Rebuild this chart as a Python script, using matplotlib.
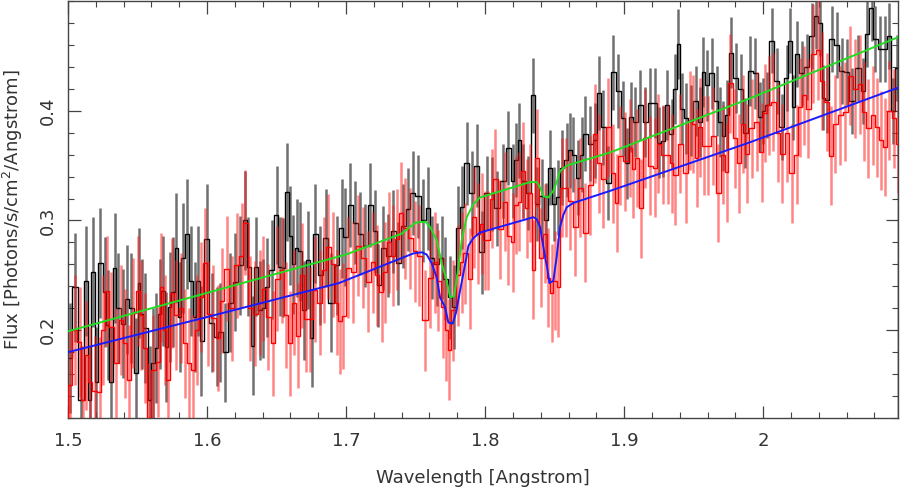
import numpy as np
import matplotlib
matplotlib.use("Agg")
import matplotlib.pyplot as plt
from matplotlib.ticker import MultipleLocator

# black spectrum: bin centres [Angstrom] and flux
black_wave = [1.5012, 1.5048, 1.5096, 1.5132, 1.5156, 1.5180, 1.5204, 1.5233, 1.5264, 1.5286,
              1.5307, 1.5336, 1.5360, 1.5396, 1.5426, 1.5456, 1.5492, 1.5508, 1.5530, 1.5556,
              1.5588, 1.5610, 1.5635, 1.5660, 1.5683, 1.5707, 1.5731, 1.5755, 1.5779, 1.5803,
              1.5827, 1.5858, 1.5887, 1.5911, 1.5935, 1.5960, 1.5998, 1.6034, 1.6070, 1.6094,
              1.6130, 1.6166, 1.6202, 1.6238, 1.6274, 1.6298, 1.6329, 1.6353, 1.6382, 1.6406,
              1.6430, 1.6466, 1.6502, 1.6526, 1.6550, 1.6578, 1.6597, 1.6621, 1.6645, 1.6669,
              1.6698, 1.6729, 1.6753, 1.6777, 1.6813, 1.6854, 1.6890, 1.6933, 1.6969, 1.6993,
              1.7029, 1.7065, 1.7101, 1.7137, 1.7173, 1.7209, 1.7233, 1.7269, 1.7305, 1.7341,
              1.7377, 1.7413, 1.7445, 1.7480, 1.7515, 1.7556, 1.7592, 1.7616, 1.7652, 1.7688,
              1.7712, 1.7748, 1.7777, 1.7808, 1.7835, 1.7868, 1.7904, 1.7940, 1.7976, 1.8012,
              1.8048, 1.8084, 1.8132, 1.8168, 1.8199, 1.8223, 1.8247, 1.8276, 1.8312, 1.8348,
              1.8372, 1.8408, 1.8439, 1.8467, 1.8496, 1.8527, 1.8551, 1.8587, 1.8611, 1.8635,
              1.8671, 1.8695, 1.8719, 1.8755, 1.8791, 1.8822, 1.8851, 1.8887, 1.8923, 1.8959,
              1.8995, 1.9019, 1.9048, 1.9079, 1.9115, 1.9151, 1.9187, 1.9223, 1.9254, 1.9278,
              1.9307, 1.9343, 1.9367, 1.9391, 1.9415, 1.9446, 1.9480, 1.9518, 1.9546, 1.9570,
              1.9594, 1.9630, 1.9666, 1.9690, 1.9714, 1.9738, 1.9767, 1.9805, 1.9839, 1.9870,
              1.9906, 1.9942, 1.9978, 2.0002, 2.0026, 2.0062, 2.0098, 2.0134, 2.0170, 2.0194,
              2.0218, 2.0242, 2.0278, 2.0314, 2.0350, 2.0378, 2.0410, 2.0434, 2.0458, 2.0494,
              2.0530, 2.0565, 2.0601, 2.0637, 2.0681, 2.0721, 2.0745, 2.0781, 2.0805, 2.0841,
              2.0877, 2.0906, 2.0937, 2.0961]
black_flux = [0.175, 0.239, 0.136, 0.245, 0.136, 0.253, 0.153, 0.261, 0.235, 0.205,
              0.153, 0.257, 0.220, 0.206, 0.228, 0.220, 0.161, 0.243, 0.215, 0.202,
              0.136, 0.170, 0.184, 0.215, 0.236, 0.185, 0.221, 0.235, 0.275, 0.212,
              0.266, 0.288, 0.245, 0.212, 0.245, 0.190, 0.283, 0.207, 0.194, 0.198,
              0.180, 0.225, 0.244, 0.259, 0.300, 0.258, 0.186, 0.258, 0.218, 0.220,
              0.239, 0.255, 0.305, 0.258, 0.257, 0.326, 0.286, 0.260, 0.275, 0.272,
              0.218, 0.264, 0.193, 0.288, 0.250, 0.284, 0.225, 0.259, 0.293, 0.285,
              0.314, 0.298, 0.288, 0.277, 0.314, 0.290, 0.241, 0.275, 0.268, 0.290,
              0.261, 0.295, 0.310, 0.325, 0.322, 0.300, 0.311, 0.266, 0.260, 0.266,
              0.247, 0.230, 0.221, 0.293, 0.312, 0.352, 0.325, 0.350, 0.271, 0.325,
              0.324, 0.311, 0.336, 0.366, 0.336, 0.355, 0.373, 0.336, 0.325, 0.414,
              0.315, 0.322, 0.300, 0.348, 0.315, 0.321, 0.348, 0.355, 0.364, 0.360,
              0.339, 0.360, 0.379, 0.370, 0.373, 0.416, 0.385, 0.334, 0.435, 0.418,
              0.393, 0.352, 0.394, 0.390, 0.405, 0.390, 0.407, 0.407, 0.371, 0.372,
              0.405, 0.379, 0.420, 0.461, 0.402, 0.393, 0.391, 0.409, 0.390, 0.435,
              0.423, 0.434, 0.409, 0.390, 0.377, 0.396, 0.453, 0.430, 0.420, 0.380,
              0.436, 0.434, 0.394, 0.400, 0.405, 0.464, 0.427, 0.385, 0.430, 0.464,
              0.403, 0.452, 0.434, 0.440, 0.468, 0.486, 0.480, 0.412, 0.410, 0.465,
              0.460, 0.436, 0.435, 0.409, 0.439, 0.418, 0.470, 0.494, 0.465, 0.456,
              0.456, 0.468, 0.400, 0.439]

# red spectrum
red_wave = [1.5015, 1.5048, 1.5084, 1.5108, 1.5132, 1.5156, 1.5192, 1.5228, 1.5252, 1.5283,
            1.5307, 1.5348, 1.5384, 1.5408, 1.5436, 1.5468, 1.5504, 1.5528, 1.5556, 1.5576,
            1.5612, 1.5647, 1.5671, 1.5695, 1.5719, 1.5748, 1.5779, 1.5811, 1.5839, 1.5868,
            1.5899, 1.5930, 1.5959, 1.5983, 1.6010, 1.6046, 1.6082, 1.6106, 1.6142, 1.6178,
            1.6214, 1.6250, 1.6274, 1.6310, 1.6346, 1.6382, 1.6406, 1.6442, 1.6478, 1.6506,
            1.6538, 1.6569, 1.6597, 1.6626, 1.6657, 1.6681, 1.6713, 1.6741, 1.6777, 1.6809,
            1.6842, 1.6873, 1.6909, 1.6933, 1.6957, 1.6981, 1.7017, 1.7053, 1.7089, 1.7125,
            1.7161, 1.7192, 1.7221, 1.7257, 1.7281, 1.7312, 1.7341, 1.7365, 1.7393, 1.7425,
            1.7461, 1.7497, 1.7528, 1.7568, 1.7604, 1.7640, 1.7664, 1.7700, 1.7722, 1.7744,
            1.7772, 1.7808, 1.7832, 1.7856, 1.7892, 1.7920, 1.7952, 1.7976, 1.8000, 1.8024,
            1.8048, 1.8072, 1.8108, 1.8144, 1.8168, 1.8199, 1.8223, 1.8247, 1.8276, 1.8300,
            1.8324, 1.8348, 1.8376, 1.8400, 1.8431, 1.8455, 1.8479, 1.8503, 1.8527, 1.8551,
            1.8583, 1.8611, 1.8647, 1.8683, 1.8719, 1.8755, 1.8791, 1.8822, 1.8851, 1.8887,
            1.8923, 1.8947, 1.8971, 1.9007, 1.9043, 1.9067, 1.9091, 1.9120, 1.9151, 1.9187,
            1.9223, 1.9247, 1.9283, 1.9319, 1.9343, 1.9367, 1.9403, 1.9446, 1.9474, 1.9498,
            1.9522, 1.9546, 1.9575, 1.9606, 1.9642, 1.9678, 1.9709, 1.9738, 1.9762, 1.9798,
            1.9829, 1.9858, 1.9882, 1.9918, 1.9954, 1.9990, 2.0014, 2.0043, 2.0074, 2.0110,
            2.0139, 2.0170, 2.0206, 2.0242, 2.0266, 2.0297, 2.0326, 2.0362, 2.0393, 2.0422,
            2.0458, 2.0489, 2.0517, 2.0553, 2.0589, 2.0625, 2.0661, 2.0697, 2.0729, 2.0757,
            2.0793, 2.0817, 2.0848, 2.0877, 2.0906, 2.0944, 2.0968]
red_flux = [0.150, 0.200, 0.189, 0.136, 0.177, 0.153, 0.145, 0.144, 0.200, 0.236,
            0.203, 0.170, 0.209, 0.188, 0.155, 0.216, 0.236, 0.214, 0.184, 0.120,
            0.164, 0.171, 0.239, 0.200, 0.155, 0.234, 0.214, 0.220, 0.188, 0.170,
            0.164, 0.200, 0.230, 0.261, 0.215, 0.211, 0.193, 0.227, 0.256, 0.220,
            0.259, 0.268, 0.298, 0.220, 0.215, 0.225, 0.238, 0.212, 0.188, 0.247,
            0.255, 0.214, 0.188, 0.225, 0.195, 0.250, 0.210, 0.210, 0.237, 0.225,
            0.255, 0.276, 0.260, 0.225, 0.208, 0.213, 0.257, 0.253, 0.277, 0.266,
            0.244, 0.262, 0.250, 0.235, 0.253, 0.280, 0.268, 0.283, 0.307, 0.293,
            0.284, 0.272, 0.268, 0.209, 0.248, 0.262, 0.245, 0.221, 0.200, 0.182,
            0.218, 0.250, 0.262, 0.270, 0.247, 0.303, 0.288, 0.297, 0.282, 0.282,
            0.320, 0.338, 0.292, 0.317, 0.286, 0.280, 0.314, 0.317, 0.345, 0.311,
            0.325, 0.255, 0.357, 0.266, 0.288, 0.248, 0.234, 0.245, 0.239, 0.330,
            0.330, 0.318, 0.294, 0.330, 0.289, 0.332, 0.379, 0.352, 0.338, 0.385,
            0.343, 0.316, 0.359, 0.354, 0.366, 0.347, 0.357, 0.311, 0.375, 0.350,
            0.348, 0.370, 0.360, 0.360, 0.352, 0.341, 0.370, 0.343, 0.391, 0.388,
            0.357, 0.385, 0.368, 0.368, 0.377, 0.325, 0.360, 0.344, 0.425, 0.375,
            0.352, 0.388, 0.361, 0.384, 0.390, 0.362, 0.398, 0.405, 0.408, 0.380,
            0.361, 0.380, 0.343, 0.360, 0.403, 0.414, 0.402, 0.452, 0.455, 0.427,
            0.408, 0.359, 0.388, 0.396, 0.399, 0.432, 0.420, 0.424, 0.399, 0.384,
            0.396, 0.385, 0.373, 0.367, 0.400, 0.393, 0.370]

# half error per 0.1 A segment (1.5-1.6, 1.6-1.7, ...)
black_err_seg = [0.050, 0.045, 0.038, 0.034, 0.032, 0.030]
red_err_seg = [0.050, 0.048, 0.046, 0.045, 0.045, 0.045]

# model curves
green_wave = [1.5, 1.6, 1.7, 1.74, 1.75, 1.757, 1.7605, 1.7652, 1.7688, 1.7724,
              1.7748, 1.7777, 1.7808, 1.7832, 1.7868, 1.7916, 1.7964, 1.8324, 1.8372, 1.8396,
              1.842, 1.8455, 1.8491, 1.8515, 1.8539, 1.8587, 1.89, 1.99, 2.097]
green_flux = [0.199, 0.234, 0.269, 0.288, 0.298, 0.299, 0.294, 0.282, 0.261, 0.245,
              0.230, 0.231, 0.257, 0.282, 0.303, 0.315, 0.321, 0.335, 0.335, 0.330,
              0.322, 0.321, 0.327, 0.335, 0.345, 0.350, 0.362, 0.411, 0.467]
blue_wave = [1.5, 1.6, 1.695, 1.7365, 1.7485, 1.7545, 1.758, 1.7616, 1.7652, 1.7676,
             1.7712, 1.7736, 1.7767, 1.7791, 1.782, 1.7844, 1.7868, 1.788, 1.7916, 1.7964,
             1.8348, 1.8372, 1.8396, 1.8415, 1.8431, 1.8448, 1.8463, 1.8491, 1.8515, 1.8539,
             1.8563, 1.8587, 1.8635, 1.89, 1.99, 2.097]
blue_flux = [0.180, 0.212, 0.243, 0.264, 0.270, 0.271, 0.269, 0.261, 0.248, 0.230,
             0.221, 0.207, 0.206, 0.216, 0.236, 0.252, 0.268, 0.277, 0.284, 0.289,
             0.303, 0.301, 0.294, 0.279, 0.267, 0.256, 0.243, 0.245, 0.267, 0.294,
             0.305, 0.312, 0.316, 0.327, 0.371, 0.421]

x_ticks = [1.5, 1.6, 1.7, 1.8, 1.9, 2.0]
x_ticklabels = ["1.5", "1.6", "1.7", "1.8", "1.9", "2"]
y_ticks = [0.2, 0.3, 0.4]


def edges_from_centers(c):
    c = np.asarray(c)
    mid = (c[1:] + c[:-1]) / 2
    return np.concatenate([[2 * c[0] - mid[0]], mid, [2 * c[-1] - mid[-1]]])


def seg_errors(wave, seg):
    idx = np.clip(((np.asarray(wave) - 1.5) / 0.1).astype(int), 0, len(seg) - 1)
    return np.asarray(seg)[idx]


plt.rcParams['font.family'] = ['DejaVu Sans']
fig = plt.figure(figsize=(9, 4.91), dpi=100)
ax = fig.add_axes([68 / 900, 73 / 491, 830 / 900, 417 / 491])

# black data
ax.errorbar(black_wave, black_flux, yerr=seg_errors(black_wave, black_err_seg),
            fmt='none', ecolor='#333333', elinewidth=1.8, alpha=0.7, zorder=1)
ax.stairs(black_flux, edges_from_centers(black_wave), color='black', lw=1.0, zorder=2)

# red data
ax.errorbar(red_wave, red_flux, yerr=seg_errors(red_wave, red_err_seg),
            fmt='none', ecolor='#ff2020', elinewidth=1.8, alpha=0.55, zorder=3)
ax.stairs(red_flux, edges_from_centers(red_wave), color='#ff0000', lw=1.0, zorder=4)

# models
ax.plot(green_wave, green_flux, color='#22dd22', lw=1.4, zorder=5)
ax.plot(blue_wave, blue_flux, color='#1a1aff', lw=1.4, zorder=6)

ax.set_xlim(1.5, 2.097)
ax.set_ylim(0.12, 0.5)
ax.set_xticks(x_ticks)
ax.set_xticklabels(x_ticklabels)
ax.set_yticks(y_ticks)
ax.xaxis.set_minor_locator(MultipleLocator(0.02))
ax.yaxis.set_minor_locator(MultipleLocator(0.02))
ax.tick_params(which='both', direction='in', top=True, right=True, color='#444444',
               labelsize=13, labelcolor='#333333')
ax.tick_params(which='major', length=9, width=0.9)
ax.tick_params(which='minor', length=4.5, width=0.8)
ax.tick_params(axis='x', pad=10)
ax.tick_params(axis='y', pad=8)
for lab in ax.get_yticklabels():
    lab.set_rotation(90)
    lab.set_va('center')
for sp in ax.spines.values():
    sp.set_color('#444444')
    sp.set_linewidth(1.0)

ax.set_xlabel("Wavelength [Angstrom]", fontsize=13, color='#333333', labelpad=14)
ax.set_ylabel("Flux [Photons/s/cm$^2$/Angstrom]", fontsize=13, color='#333333', labelpad=10)

fig.savefig("out.png", dpi=100)
